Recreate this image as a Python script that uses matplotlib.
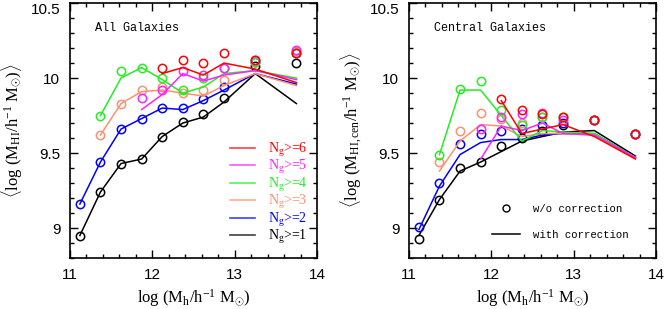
import numpy as np
import matplotlib
matplotlib.use("Agg")
import matplotlib.pyplot as plt
from matplotlib.ticker import MultipleLocator
from matplotlib.lines import Line2D

plt.rcParams['mathtext.fontset'] = 'custom'
plt.rcParams['mathtext.rm'] = 'Liberation Serif'
plt.rcParams['mathtext.it'] = 'Liberation Serif:italic'

mh = [11.12, 11.37, 11.62, 11.87, 12.12, 12.37, 12.62, 12.87, 13.25, 13.75]

colors = ['black', 'blue', '#ff9070', '#22ee22', '#ff22ff', 'red']
labels = [r'N$_{\rm g}$>=1', r'N$_{\rm g}$>=2', r'N$_{\rm g}$>=3',
          r'N$_{\rm g}$>=4', r'N$_{\rm g}$>=5', r'N$_{\rm g}$>=6']
start = [0, 0, 1, 1, 3, 4]   # first mass bin of each Ng sample

# all galaxies: circles (w/o correction), lines (with correction)
all_pts = [
    [8.95, 9.24, 9.43, 9.46, 9.61, 9.71, 9.76, 9.87, 10.08, 10.10],
    [9.16, 9.44, 9.66, 9.73, 9.80, 9.80, 9.86, 9.94, 10.11, 10.17],
    [9.62, 9.83, 9.92, 9.94, 9.90, 9.92, 9.99, 10.11, 10.18],
    [9.75, 10.05, 10.07, 10.00, 9.92, 10.00, 10.07, 10.11, 10.17],
    [9.87, 9.92, 10.05, 10.02, 10.07, 10.12, 10.19],
    [10.07, 10.12, 10.10, 10.17, 10.12, 10.17],
]
all_line = [
    [8.95, 9.24, 9.43, 9.46, 9.61, 9.70, 9.74, 9.84, 10.03, 9.83],
    [9.16, 9.44, 9.66, 9.73, 9.80, 9.79, 9.85, 9.92, 10.03, 9.96],
    [9.62, 9.83, 9.91, 9.92, 9.90, 9.88, 9.95, 10.03, 9.95],
    [9.75, 10.00, 10.07, 9.99, 9.90, 9.94, 10.03, 10.05, 10.00],
    [9.79, 9.89, 10.03, 9.98, 10.02, 10.05, 9.99],
    [10.03, 10.07, 10.02, 10.10, 10.06, 9.97],
]

# central galaxies
cen_pts = [
    [8.93, 9.19, 9.40, 9.44, 9.55, 9.60, 9.65, 9.69, 9.72, 9.63],
    [9.01, 9.30, 9.56, 9.63, 9.65, 9.66, 9.69, 9.70, 9.72, 9.63],
    [9.44, 9.65, 9.77, 9.73, 9.70, 9.74, 9.74, 9.72, 9.63],
    [9.49, 9.93, 9.98, 9.79, 9.69, 9.74, 9.74, 9.72, 9.63],
    [9.66, 9.74, 9.76, 9.77, 9.72, 9.72, 9.63],
    [9.86, 9.79, 9.76, 9.74, 9.72, 9.63],
]
cen_line = [
    [8.95, 9.19, 9.38, 9.44, 9.51, 9.58, 9.61, 9.64, 9.65, 9.48],
    [8.99, 9.28, 9.49, 9.57, 9.59, 9.59, 9.62, 9.63, 9.63, 9.47],
    [9.38, 9.58, 9.69, 9.68, 9.61, 9.63, 9.63, 9.62, 9.47],
    [9.49, 9.92, 9.92, 9.75, 9.58, 9.65, 9.64, 9.63, 9.47],
    [9.46, 9.68, 9.65, 9.70, 9.63, 9.62, 9.47],
    [9.85, 9.63, 9.66, 9.69, 9.61, 9.46],
]

fig = plt.figure(figsize=(6.64, 3.09), dpi=100)
ax1 = fig.add_axes([0.1054, 0.165, 0.372, 0.825])
ax2 = fig.add_axes([0.616, 0.165, 0.372, 0.825])


def panel(ax, pts, lines, ylabel, title):
    for i in range(6):
        x = mh[start[i]:]
        ax.plot(x, lines[i], color=colors[i], lw=1.1)
        ax.plot(x, pts[i], 'o', mfc='none', mec=colors[i], ms=6, mew=1.1)
    ax.set_xlim(11, 14)
    ax.set_ylim(8.8, 10.5)
    ax.xaxis.set_major_locator(MultipleLocator(1))
    ax.xaxis.set_minor_locator(MultipleLocator(0.2))
    ax.yaxis.set_minor_locator(MultipleLocator(0.1))
    ax.set_yticks([9, 9.5, 10, 10.5])
    ax.set_yticklabels(['9', '9.5', '10', '10.5'])
    ax.tick_params(which='both', direction='in', top=True, right=True,
                   labelsize=11, width=1)
    ax.tick_params(which='major', length=6, pad=7)
    ax.tick_params(which='minor', length=3)
    for s in ax.spines.values():
        s.set_linewidth(1.2)
    for t in ax.get_xticklabels() + ax.get_yticklabels():
        t.set_family('Liberation Sans')
    ax.get_yticklabels()[-1].set_va('top')
    ax.set_xlabel(r'log (M$_{\rm h}$/h$^{-1}$ M$_{\odot}$)',
                  family='Liberation Serif', fontsize=12, labelpad=4)
    ax.set_ylabel(ylabel, family='Liberation Serif', fontsize=12, labelpad=4)
    ax.text(0.101, 0.89, title, transform=ax.transAxes,
            family='Liberation Mono', fontsize=8.5)


panel(ax1, all_pts, all_line,
      r'$\langle$log (M$_{\rm HI}$/h$^{-1}$ M$_{\odot}$)$\rangle$',
      'All Galaxies')
panel(ax2, cen_pts, cen_line,
      r'$\langle$log (M$_{\rm HI,cen}$/h$^{-1}$ M$_{\odot}$)$\rangle$',
      'Central Galaxies')

# left legend
handles = [Line2D([], [], color=colors[i], lw=1.2, alpha=0.75) for i in range(5, -1, -1)]
leg = ax1.legend(handles, labels[::-1], loc='lower left',
                 bbox_to_anchor=(0.648, 0.047), frameon=False,
                 borderaxespad=0, borderpad=0,
                 prop={'family': 'Liberation Serif', 'size': 10},
                 handlelength=1.8, handletextpad=0.95, labelspacing=-0.04)
for t, c in zip(leg.get_texts(), colors[::-1]):
    t.set_color(c)

# right legend
h2 = [Line2D([], [], marker='o', ls='none', mfc='none', mec='black', ms=5, mew=1.0),
      Line2D([], [], color='black', lw=1.1)]
ax2.legend(h2, ['w/o correction', 'with correction'], loc='lower left',
           bbox_to_anchor=(0.336, 0.07), frameon=False,
           borderaxespad=0, borderpad=0,
           prop={'family': 'Liberation Mono', 'size': 7.7},
           handlelength=2.6, handletextpad=1.2, labelspacing=1.5)

fig.savefig('out.png', dpi=100)
